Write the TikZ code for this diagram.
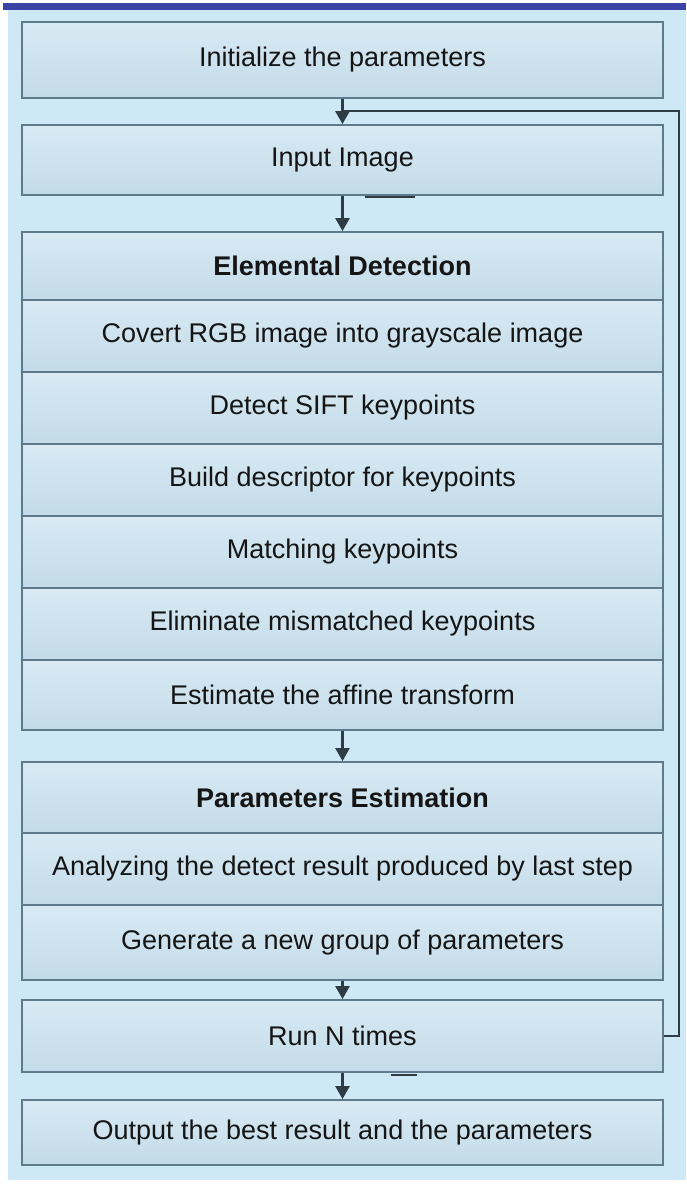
\documentclass[tikz,border=0pt]{standalone}
\usepackage{fontspec}
\setmainfont{Liberation Sans}
\usetikzlibrary{arrows.meta,positioning}
\definecolor{bgblue}{HTML}{CFE8F6}
\definecolor{band}{HTML}{3B43A6}
\definecolor{boxtop}{HTML}{D8EAF4}
\definecolor{boxbot}{HTML}{C3DBE8}
\definecolor{boxline}{HTML}{5F7B8B}
\definecolor{arrowc}{HTML}{2E3C46}
\definecolor{txt}{HTML}{151515}
\tikzset{
  stepbox/.style={draw=boxline, line width=1.8pt, top color=boxtop, bottom color=boxbot,
    minimum width=641pt, inner sep=0pt, text=txt,
    font=\fontsize{27}{32}\selectfont},
  headbox/.style={stepbox, font=\fontsize{27}{32}\selectfont\bfseries},
  flow/.style={draw=arrowc, line width=2.4pt, -{Triangle[width=14pt,length=13pt]}},
  loopline/.style={draw=arrowc, line width=2.2pt},
  smudge/.style={draw=arrowc, line width=2.5pt}
}
\begin{document}
\begin{tikzpicture}[x=1pt,y=-1pt]
\useasboundingbox (0,0) rectangle (686,1189);
\fill[white] (0,0) rectangle (686,1189);
\fill[bgblue] (8,10) rectangle (686,1180);
\fill[band] (3,3) rectangle (686,10);

\node[stepbox, minimum height=76pt] (init) at (342.5,60) {Initialize the parameters};
\node[stepbox, minimum height=70pt] (input) at (342.5,160) {Input Image};

\node[headbox, minimum height=68pt] (edh) at (342.5,266) {Elemental Detection};
\node[stepbox, minimum height=72pt] (r1) at (342.5,336) {Covert RGB image into grayscale image};
\node[stepbox, minimum height=72pt] (r2) at (342.5,408) {Detect SIFT keypoints};
\node[stepbox, minimum height=72pt] (r3) at (342.5,480) {Build descriptor for keypoints};
\node[stepbox, minimum height=72pt] (r4) at (342.5,552) {Matching keypoints};
\node[stepbox, minimum height=72pt] (r5) at (342.5,624) {Eliminate mismatched keypoints};
\node[stepbox, minimum height=70pt] (r6) at (342.5,695) {Estimate the affine transform};

\node[headbox, minimum height=71pt] (peh) at (342.5,797.5) {Parameters Estimation};
\node[stepbox, minimum height=72pt] (p1) at (342.5,869) {Analyzing the detect result produced by last step};
\node[stepbox, minimum height=75pt] (p2) at (342.5,942.5) {Generate a new group of parameters};

\node[stepbox, minimum height=72pt] (run) at (342.5,1036) {Run N times};
\node[stepbox, minimum height=65pt] (out) at (342.5,1132.5) {Output the best result and the parameters};

\draw[flow] (init.south) -- (input.north);
\draw[flow] (input.south) -- (edh.north);
\draw[flow] (r6.south) -- (peh.north);
\draw[flow] (p2.south) -- (run.north);
\draw[flow] (run.south) -- (out.north);

\coordinate (join) at ([yshift=13pt]input.north);
\draw[loopline] (run.east) -- ++(15pt,0) |- (join);

\draw[smudge] ([xshift=22pt,yshift=-1pt]input.south) -- ++(50pt,0);
\draw[smudge] ([xshift=48pt,yshift=-2pt]run.south) -- ++(26pt,0);
\end{tikzpicture}
\end{document}
